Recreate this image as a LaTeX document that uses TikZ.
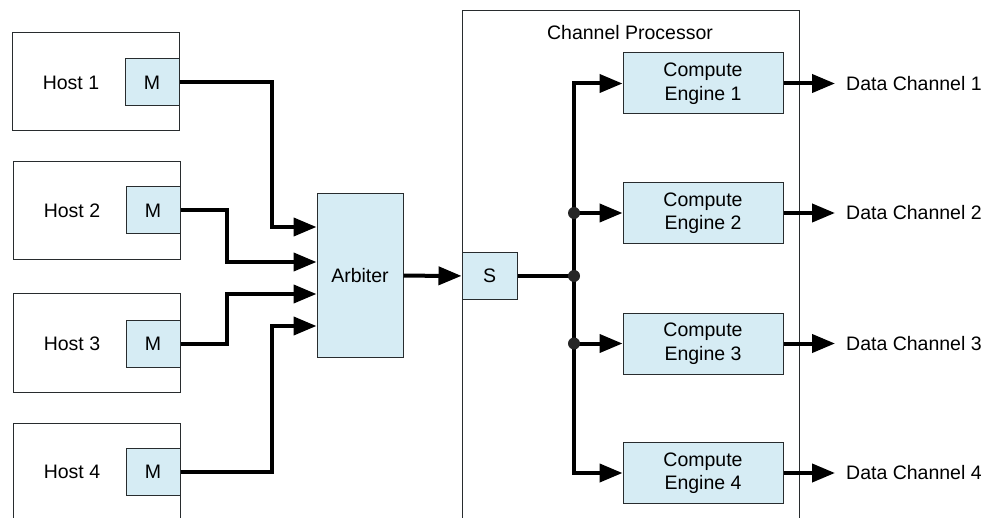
\documentclass[tikz,border=0pt]{standalone}
\usepackage{fontspec}
\setmainfont{Liberation Sans}
\usepackage{xcolor}
\usepackage{tikz}
\usetikzlibrary{arrows.meta,positioning,calc}
\definecolor{boxblue}{RGB}{214,236,244}
\definecolor{edge}{RGB}{40,44,46}

\begin{document}
\begin{tikzpicture}[
    x=1pt, y=-1pt,
    font=\fontsize{19.5}{23.5}\selectfont,
    hostbox/.style={draw=edge, line width=1pt, minimum width=167pt, minimum height=98pt, inner sep=0pt},
    unit/.style={draw=edge, line width=1pt, fill=boxblue, inner sep=0pt, align=center},
    bus/.style={line width=4pt, -{Triangle[length=23pt, width=18pt]}},
    dlbl/.style={anchor=west, inner sep=0pt},
    dot/.style={circle, fill=black!85, inner sep=0pt, minimum size=12pt}
]
\useasboundingbox (0,0) rectangle (984,518);
\clip (0,0) rectangle (984,518);

\node[hostbox] (h1) at (95.5,82) {};
\node[hostbox] (h2) at (96.5,210.5) {};
\node[hostbox] (h3) at (96.5,343) {};
\node[hostbox] (h4) at (96.5,472) {};
\node (h1lbl) at (71,83) {Host 1};
\node (h2lbl) at (72,211) {Host 2};
\node (h3lbl) at (72,344) {Host 3};
\node (h4lbl) at (72,472) {Host 4};
\node[unit, minimum width=54pt, minimum height=47pt, anchor=east] (m1) at (h1.east |- 0,82.5) {M};
\node[unit, minimum width=54pt, minimum height=47pt, anchor=east] (m2) at (h2.east |- 0,210.5) {M};
\node[unit, minimum width=54pt, minimum height=47pt, anchor=east] (m3) at (h3.east |- 0,344) {M};
\node[unit, minimum width=54pt, minimum height=47pt, anchor=east] (m4) at (h4.east |- 0,472) {M};

\node[unit, minimum width=86pt, minimum height=163pt] (arb) at (360,275.5) {Arbiter};

\node[draw=edge, line width=1pt, minimum width=337pt, minimum height=540pt, inner sep=0pt] (cp) at (630.5,281) {};
\node (cplbl) at (630,33) {Channel Processor};
\node[unit, minimum width=55pt, minimum height=47pt] (s) at (489.5,276) {S};

\node[unit, minimum width=160pt, minimum height=61pt] (ce1) at (703,83.5) {Compute\\Engine 1};
\node[unit, minimum width=160pt, minimum height=61pt] (ce2) at (703,213) {Compute\\Engine 2};
\node[unit, minimum width=160pt, minimum height=61pt] (ce3) at (703,343.5) {Compute\\Engine 3};
\node[unit, minimum width=160pt, minimum height=61pt] (ce4) at (703,473) {Compute\\Engine 4};

\node[dlbl] (dc1) at (846,83.5) {Data Channel 1};
\node[dlbl] (dc2) at (846,213) {Data Channel 2};
\node[dlbl] (dc3) at (846,343.5) {Data Channel 3};
\node[dlbl] (dc4) at (846,473) {Data Channel 4};

\draw[bus] (m1.east) -| ([xshift=-45pt, yshift=48.5pt]arb.west) -- ([yshift=48.5pt]arb.west);
\draw[bus] (m2.east) -| ([xshift=-90pt, yshift=13.5pt]arb.west) -- ([yshift=13.5pt]arb.west);
\draw[bus] (m3.east) -| ([xshift=-90pt, yshift=-18.5pt]arb.west) -- ([yshift=-18.5pt]arb.west);
\draw[bus] (m4.east) -| ([xshift=-45pt, yshift=-50.5pt]arb.west) -- ([yshift=-50.5pt]arb.west);
\draw[bus] (arb) -- (s);

\coordinate (js) at (574,276);
\draw[line width=4pt] (s.east) -- (js);
\draw[bus] (js) |- (ce1.west);
\draw[bus] (js) |- (ce4.west);
\draw[bus] (js |- ce2.west) -- (ce2.west);
\draw[bus] (js |- ce3.west) -- (ce3.west);
\node[dot] (d2) at (js |- ce2.west) {};
\node[dot] (ds) at (js) {};
\node[dot] (d3) at (js |- ce3.west) {};

\draw[bus] (ce1.east) -- ([xshift=-11pt]dc1.west);
\draw[bus] (ce2.east) -- ([xshift=-11pt]dc2.west);
\draw[bus] (ce3.east) -- ([xshift=-11pt]dc3.west);
\draw[bus] (ce4.east) -- ([xshift=-11pt]dc4.west);
\end{tikzpicture}
\end{document}
